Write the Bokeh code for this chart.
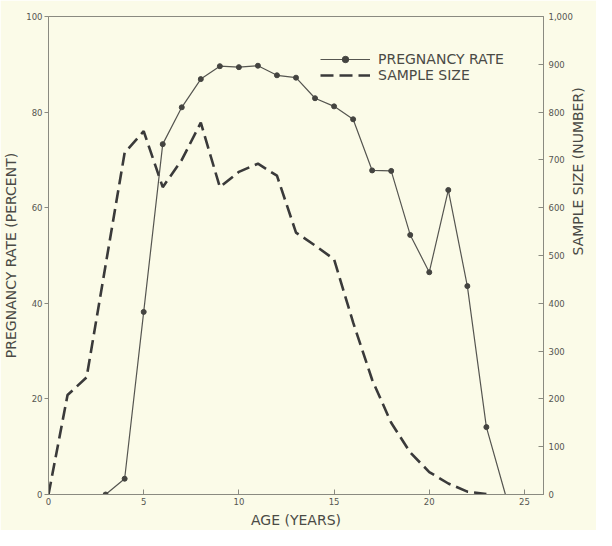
from bokeh.plotting import figure
from bokeh.models import Range1d, LinearAxis, FixedTicker, NumeralTickFormatter, Legend, LegendItem
import math
from bokeh.embed import file_html
from bokeh.resources import INLINE

# Data
preg_ages = [3, 4, 5, 6, 7, 8, 9, 10, 11, 12, 13, 14, 15, 16, 17, 18, 19, 20, 21, 22, 23, 24]
preg_rate = [0, 3.3, 38.2, 73.3, 81.0, 86.9, 89.6, 89.4, 89.7, 87.7, 87.2, 82.9, 81.2, 78.5,
             67.8, 67.7, 54.3, 46.5, 63.7, 43.6, 14.1, 0]
sample_ages = [0, 1, 2, 3, 4, 5, 6, 7, 8, 9, 10, 11, 12, 13, 14, 15, 16, 17, 18, 19, 20, 21, 22, 23]
sample_size = [0, 208, 245, 480, 715, 760, 643, 700, 778, 643, 675, 692, 667, 548, 521, 492,
               360, 240, 150, 88, 47, 23, 6, 1]
x_ticks = [0, 5, 10, 15, 20, 25]
left_ticks = [0, 20, 40, 60, 80, 100]
right_ticks = [0, 100, 200, 300, 400, 500, 600, 700, 800, 900, 1000]

BG = "#fbfbe8"
INK = "#3a3a3a"
AXC = "#8a8a80"
TXT = "#555550"
FONT = "DejaVu Sans"

p = figure(width=596, height=530, output_backend="svg", toolbar_location=None,
           x_range=Range1d(0, 26), y_range=Range1d(0, 100),
           min_border_left=48, min_border_right=52, min_border_top=16, min_border_bottom=36)
p.background_fill_color = BG
p.border_fill_color = BG
p.outline_line_color = AXC
p.outline_line_width = 1
p.grid.visible = False

p.extra_y_ranges = {"n": Range1d(0, 1000)}

xa = p.xaxis[0]
xa.ticker = FixedTicker(ticks=x_ticks)
xa.axis_label = "AGE (YEARS)"
xa.major_tick_in = 5
xa.major_tick_out = 0
xa.major_label_standoff = 3
xa.axis_label_standoff = 4

ya = p.yaxis[0]
ya.ticker = FixedTicker(ticks=left_ticks)
ya.axis_label = "PREGNANCY RATE (PERCENT)"
ya.major_tick_in = 0
ya.major_tick_out = 4
ya.major_label_standoff = 2
ya.axis_label_standoff = 4

ra = LinearAxis(y_range_name="n", ticker=FixedTicker(ticks=right_ticks),
                formatter=NumeralTickFormatter(format="0,0"),
                axis_label="SAMPLE SIZE (NUMBER)")
ra.major_tick_in = 5
ra.major_tick_out = 0
ra.major_label_standoff = 5
ra.axis_label_standoff = 2
try:
    ra.axis_label_orientation = math.pi / 2
except Exception:
    pass
p.add_layout(ra, "right")

for ax in [xa, ya, ra]:
    ax.minor_tick_line_color = None
    ax.axis_line_color = AXC
    ax.major_tick_line_color = AXC
    ax.major_label_text_font = FONT
    ax.major_label_text_font_size = "8.5px"
    ax.major_label_text_color = TXT
    ax.axis_label_text_font = FONT
    ax.axis_label_text_font_size = "14px"
    ax.axis_label_text_font_style = "normal"
    ax.axis_label_text_color = "#4a4a45"

r_s = p.line(sample_ages, sample_size, y_range_name="n", line_color=INK,
             line_width=2.6, line_dash="13 6")
r_p = p.line(preg_ages, preg_rate, line_color="#555550", line_width=1.2)
r_m = p.scatter(preg_ages[:-1], preg_rate[:-1], size=5, color="#444440")

legend = Legend(items=[LegendItem(label="PREGNANCY RATE", renderers=[r_p, r_m]),
                       LegendItem(label="SAMPLE SIZE", renderers=[r_s])],
                location=(272, 411))
legend.background_fill_alpha = 0
legend.border_line_color = None
legend.glyph_width = 50
legend.glyph_height = 16
legend.label_height = 16
legend.padding = 0
legend.spacing = 0
legend.margin = 0
legend.label_standoff = 8
legend.label_text_font = FONT
legend.label_text_font_size = "14px"
legend.label_text_color = "#4a4a45"
p.add_layout(legend)

open("out.html", "w").write(file_html(p, INLINE))
